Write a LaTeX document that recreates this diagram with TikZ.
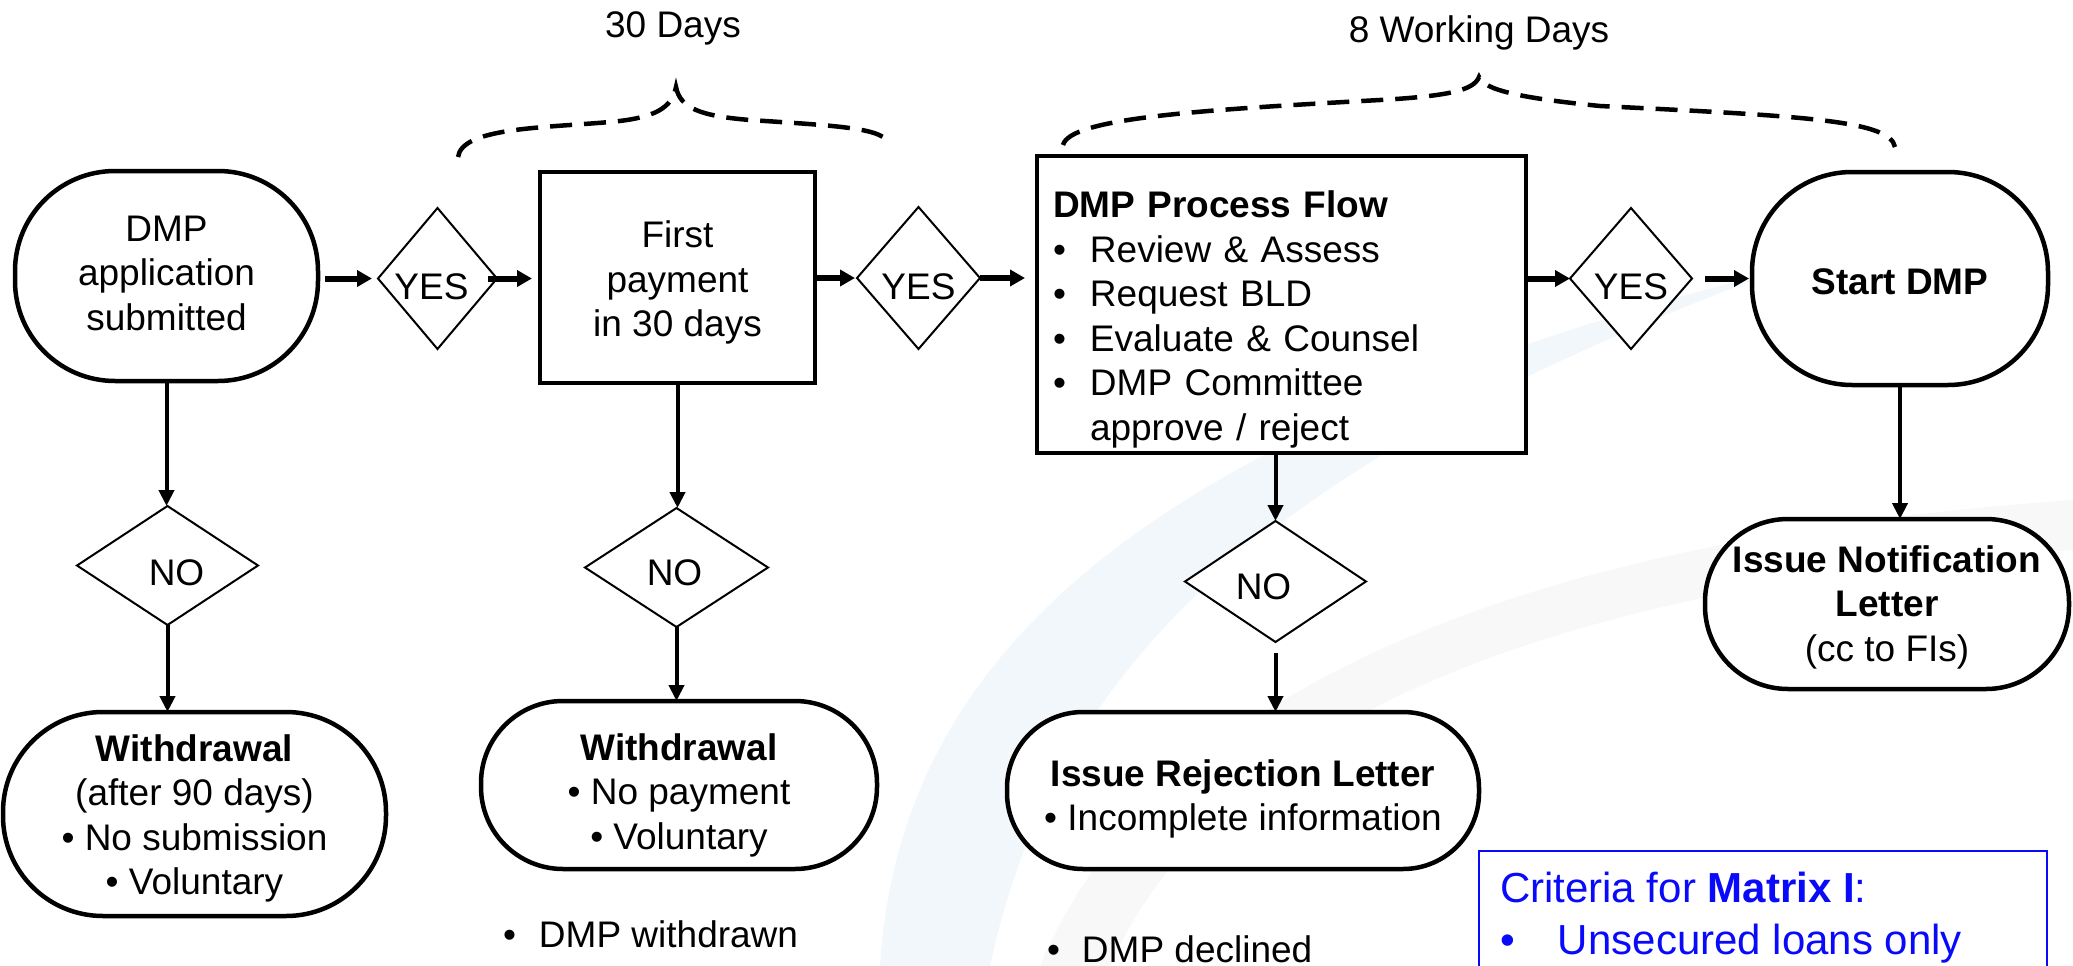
\documentclass[tikz,border=0pt]{standalone}
\usepackage{fontspec}
\setmainfont{Liberation Sans}
\usetikzlibrary{shapes.geometric,arrows.meta,calc}
\definecolor{wmblue}{RGB}{242,247,251}
\definecolor{wmgrey}{RGB}{248,248,249}
\definecolor{critblue}{RGB}{10,10,250}
\newcommand\dmpbul{\makebox[37pt][l]{\textbullet}}
\begin{document}
\begin{tikzpicture}[x=1pt,y=-1pt,
  every node/.style={font=\fontsize{37pt}{44.5pt}\selectfont, inner sep=0pt, outer sep=0pt},
  term/.style={draw, line width=4.5pt, fill=white, rounded corners=#1},
  proc/.style={draw, line width=4.5pt, fill=white, rectangle},
  dia/.style={draw, diamond, line width=2pt, fill=white},
  harr/.style={line width=6pt, -{Triangle[length=15pt,width=16pt]}},
  varr/.style={line width=4pt, -{Triangle[length=16pt,width=15pt]}},
  brace/.style={line width=4.5pt, dash pattern=on 22pt off 12pt},
]
\useasboundingbox (0,0) rectangle (2073,966);
% faint background watermark
\fill[wmblue] (880,966) .. controls (900,650) and (1150,430) .. (1780,270)
  .. controls (1300,450) and (1060,640) .. (990,966) -- cycle;
\fill[wmgrey] (1040,966) .. controls (1150,700) and (1500,540) .. (2073,500)
  -- (2073,550) .. controls (1550,585) and (1220,720) .. (1110,966) -- cycle;

% braces and their labels
\draw[brace] (458,157) .. controls (462,128) and (540,128) .. (610,122)
  .. controls (655,118) and (672,108) .. (676,87)
  .. controls (680,108) and (700,116) .. (750,120)
  .. controls (840,126) and (886,128) .. (889,145);
\draw[brace] (1063,145) .. controls (1070,118) and (1200,110) .. (1380,100)
  .. controls (1450,96) and (1474,90) .. (1479,77)
  .. controls (1484,90) and (1520,98) .. (1600,106)
  .. controls (1800,116) and (1890,120) .. (1895,147);
\node[anchor=base] (d30) at (673,38) {30 Days};
\node[anchor=base] (d8) at (1479,43) {8 Working Days};

% main row
\node[term=100pt, minimum width=303pt, minimum height=210pt,
  label={[name=N1t, align=center, yshift=3pt]center:DMP\\application\\submitted}]
  (N1) at (166.5,276) {};
\node[dia, minimum width=119pt, minimum height=141pt,
  label={[name=Y1t, xshift=-6pt, yshift=-8pt]center:YES}]
  (Y1) at (437.5,278.5) {};
\node[proc, minimum width=275pt, minimum height=211pt,
  label={[name=FPt, align=center, yshift=-5pt]center:First\\payment\\in 30 days}]
  (FP) at (677.5,277.5) {};
\node[dia, minimum width=123pt, minimum height=142pt,
  label={[name=Y2t, yshift=-9pt]center:YES}]
  (Y2) at (918.5,278) {};
\node[proc, minimum width=489pt, minimum height=297pt,
  label={[name=DMPt, text width=457pt, align=left, yshift=-15pt]center:{\textbf{DMP Process Flow}\\
    \dmpbul Review \& Assess\\
    \dmpbul Request BLD\\
    \dmpbul Evaluate \& Counsel\\
    \dmpbul DMP Committee\\
    \hspace*{37pt}approve / reject}}]
  (DMP) at (1281.5,304.5) {};
\node[dia, minimum width=122pt, minimum height=141pt,
  label={[name=Y3t, yshift=-8pt]center:YES}]
  (Y3) at (1631,278.5) {};
\node[term=100pt, minimum width=296pt, minimum height=213pt,
  label={[name=Startt, yshift=-3pt]center:\textbf{Start DMP}}]
  (Start) at (1900,278.5) {};

% NO decisions
\node[dia, minimum width=181pt, minimum height=119pt,
  label={[name=NO1t, xshift=9pt, yshift=-7pt]center:NO}]
  (NO1) at (167.5,565.5) {};
\node[dia, minimum width=183pt, minimum height=119pt,
  label={[name=NO2t, xshift=-2pt, yshift=-5.5pt]center:NO}]
  (NO2) at (676.5,567.5) {};
\node[dia, minimum width=181pt, minimum height=121pt,
  label={[name=NO3t, xshift=-12pt, yshift=-5pt]center:NO}]
  (NO3) at (1275.5,581.5) {};

% outcome terminals
\node[term=100pt, minimum width=383pt, minimum height=204pt,
  label={[name=W1t, align=center, yshift=-4.5pt]center:\textbf{Withdrawal}\\(after 90 days)\\\textbullet{} No submission\\\textbullet{} Voluntary}]
  (W1) at (194.5,814) {};
\node[term=82pt, minimum width=396pt, minimum height=168pt,
  label={[name=W2t, align=center, yshift=-10pt]center:\textbf{Withdrawal}\\\textbullet{} No payment\\\textbullet{} Voluntary}]
  (W2) at (679,785) {};
\node[term=76pt, minimum width=472pt, minimum height=157pt,
  label={[name=Rejt, align=center, yshift=-8.5pt]center:\textbf{Issue Rejection Letter}\\\textbullet{} Incomplete information}]
  (Rej) at (1243,790.5) {};
\node[term=83pt, minimum width=364pt, minimum height=170pt,
  label={[name=Notift, align=center, yshift=-3pt]center:\textbf{Issue Notification}\\\textbf{Letter}\\(cc to FIs)}]
  (Notif) at (1887,604) {};

% free notes
\node[anchor=base west] (wdn) at (503,947) {\makebox[36pt][l]{\textbullet}DMP withdrawn};
\node[anchor=base west] (dcl) at (1047,962) {\makebox[35pt][l]{\textbullet}DMP declined};

% criteria box
\node[draw=critblue, line width=2.5pt, fill=white, anchor=north west,
  minimum width=568pt, minimum height=130pt] (crit) at (1479,851) {};
\node[anchor=base west, text=critblue, font=\fontsize{42pt}{50pt}\selectfont]
  (critT) at (1500,902) {Criteria for \textbf{Matrix I}:};
\node[anchor=base west, text=critblue, font=\fontsize{42pt}{50pt}\selectfont]
  (critL) at (1500,954) {\makebox[58pt][l]{\textbullet}Unsecured loans only};

% horizontal connectors
\draw[harr, shorten <=7pt, shorten >=6pt] (N1.east |- Y1.west) -- (Y1.west);
\draw[harr, shorten <=-9pt, shorten >=8pt] (Y1.east) -- (Y1.east -| FP.west);
\draw[harr, shorten >=2pt] (FP.east |- Y2.west) -- (Y2.west);
\draw[harr, shorten >=12pt] (Y2.east) -- (Y2.east -| DMP.west);
\draw[harr] (DMP.east |- Y3.west) -- (Y3.west);
\draw[harr, shorten <=13pt, shorten >=3pt] (Y3.east) -- (Y3.east -| Start.west);

% vertical connectors
\draw[varr] (N1.south) -- (N1.south |- NO1.north);
\draw[varr] (NO1.south) -- (NO1.south |- W1.north);
\draw[varr] (FP.south) -- (FP.south |- NO2.north);
\draw[varr] (NO2.south) -- (NO2.south |- W2.north);
\draw[varr] (NO3.north |- DMP.south) -- (NO3.north);
\draw[varr, shorten <=11pt] (NO3.south) -- (NO3.south |- Rej.north);
\draw[varr] (Start.south) -- (Start.south |- Notif.north);
\end{tikzpicture}
\end{document}
